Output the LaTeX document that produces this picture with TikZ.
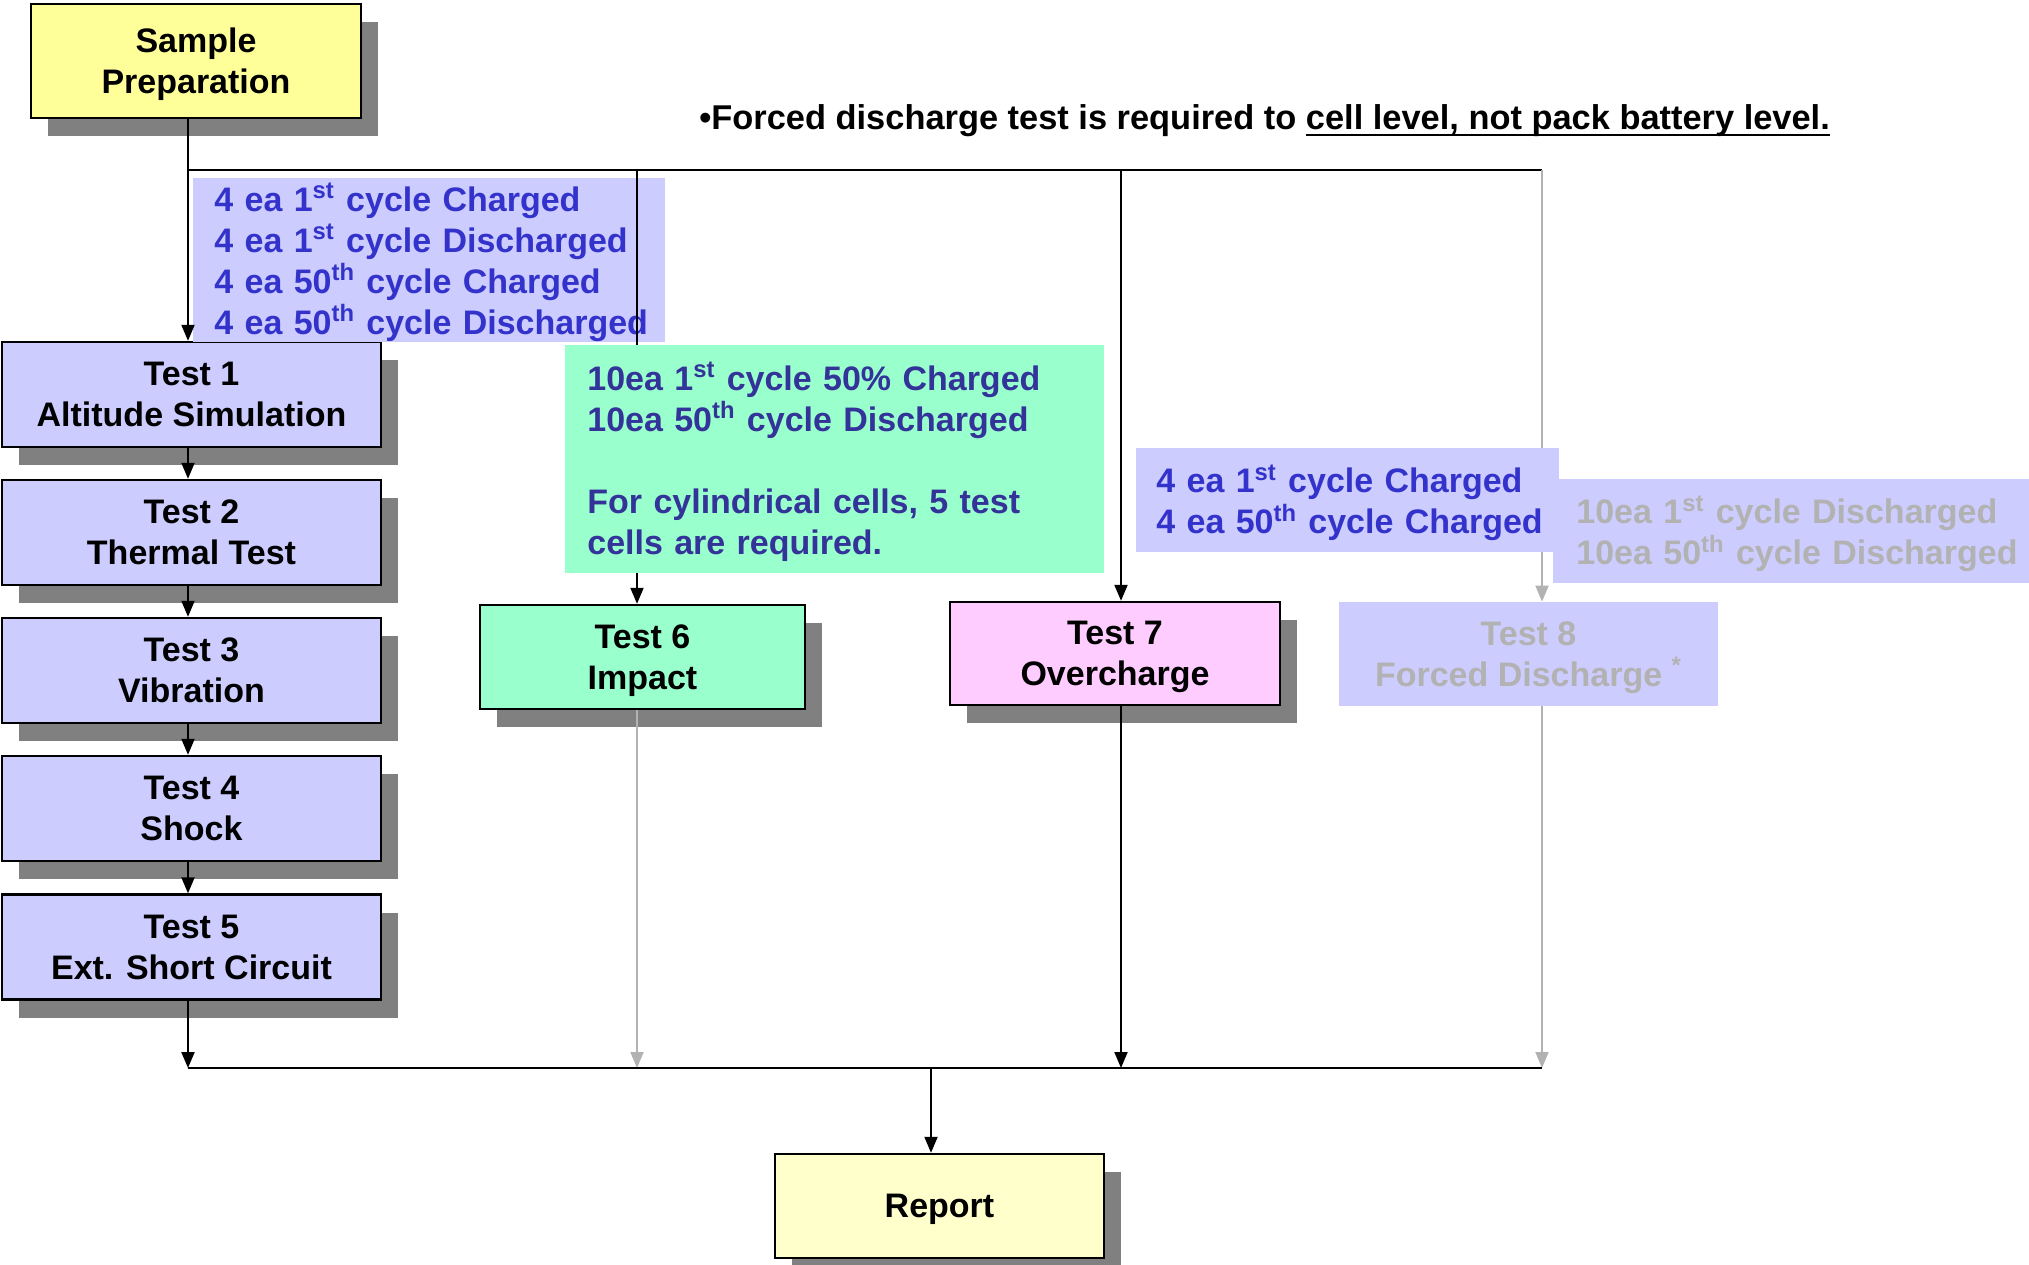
\documentclass[tikz,border=0pt]{standalone}
\usepackage{fontspec}
\setmainfont{Liberation Sans}
\usetikzlibrary{arrows.meta,shadows}

\definecolor{prepfill}{HTML}{FFFF99}
\definecolor{testfill}{HTML}{CCCCFF}
\definecolor{impactfill}{HTML}{99FFCC}
\definecolor{overfill}{HTML}{FFCCFF}
\definecolor{reportfill}{HTML}{FFFFCC}
\definecolor{shadowgray}{HTML}{808080}
\definecolor{notetext}{HTML}{3333CC}
\definecolor{greentext}{HTML}{333399}
\definecolor{fadegray}{HTML}{B2B2B2}

\newcommand{\boxfont}{\fontsize{17}{20.5}\selectfont\bfseries}
\newsavebox{\rulebox}
\newcommand{\underrule}[1]{\sbox{\rulebox}{#1}\rlap{\rule[-3.5pt]{\wd\rulebox}{1pt}}\usebox{\rulebox}}

\tikzset{
  plainbox/.style={fill=testfill, align=center, inner sep=0pt, font=\boxfont,
    text depth=0pt, minimum width=189.5pt, minimum height=52.5pt},
  testbox/.style={plainbox, draw, line width=1.2pt,
    drop shadow={shadow xshift=8.5pt, shadow yshift=-9pt, fill=shadowgray, opacity=1}},
  note/.style={fill=testfill, text=notetext, font=\boxfont, align=left,
    anchor=north west, inner xsep=10.5pt, inner ysep=0pt, text height=16.5pt},
  flow/.style={line width=1pt, -{Triangle[length=8pt, width=6.5pt]}},
  wire/.style={line width=1pt}
}

\begin{document}
\begin{tikzpicture}[x=0.5pt, y=-0.5pt]
\useasboundingbox (0,0) rectangle (2029,1264);

% boxes
\node[testbox, fill=prepfill, minimum width=165pt, minimum height=57pt] (prep) at (196,61) {Sample\\Preparation};
\node[testbox] (t1) at (191.5,394.5) {Test 1\\Altitude Simulation};
\node[testbox] (t2) at (191.5,532.5) {Test 2\\Thermal Test};
\node[testbox] (t3) at (191.5,670.5) {Test 3\\Vibration};
\node[testbox] (t4) at (191.5,808.5) {Test 4\\Shock};
\node[testbox] (t5) at (191.5,947) {Test 5\\Ext. Short Circuit};
\node[testbox, fill=impactfill, minimum width=162.5pt, minimum height=52pt] (t6) at (642.5,657) {Test 6\\Impact};
\node[testbox, fill=overfill, minimum width=165pt, minimum height=51.5pt] (t7) at (1115,653.5) {Test 7\\Overcharge};
\node[plainbox, text=fadegray, minimum height=52pt] (t8) at (1528.5,654) {Test 8\\Forced Discharge \textsuperscript{*}};
\node[testbox, fill=reportfill, minimum width=164.5pt, minimum height=52pt] (report) at (939.5,1206) {Report};

\coordinate (fork) at (188,170);
\coordinate (x6) at (637,170);
\coordinate (x7) at (1121,170);
\coordinate (x8) at (1542,170);
\coordinate (join) at (188,1068);
\coordinate (xr) at (931,1068);

% samples for tests 1-5
\node[note, text width=215pt, minimum height=81pt] (batch) at (193,178) {\mbox{4 ea 1\textsuperscript{st} cycle Charged}\\\mbox{4 ea 1\textsuperscript{st} cycle Discharged}\\\mbox{4 ea 50\textsuperscript{th} cycle Charged}\\\mbox{4 ea 50\textsuperscript{th} cycle Discharged}};

\draw[flow] (prep.south -| fork) -- (t1.north -| fork);
\draw[wire] (fork) -- (x8);
\draw[flow] (x6) -- (x6 |- t6.north);
\draw[flow] (x7) -- (x7 |- t7.north);
\draw[flow, fadegray] (x8) -- (x8 |- t8.north);

\node[note, fill=impactfill, text=greentext, inner xsep=11pt, text width=247.5pt, minimum height=114pt] (impactnote) at (565,345) {\mbox{10ea 1\textsuperscript{st} cycle 50\% Charged}\\\mbox{10ea 50\textsuperscript{th} cycle Discharged}\\[20.5pt]\mbox{For cylindrical cells, 5 test}\\\mbox{cells are required.}};
\node[note, inner xsep=10pt, text width=191.5pt, minimum height=52pt] (overnote) at (1136,448) {\mbox{4 ea 1\textsuperscript{st} cycle Charged}\\\mbox{4 ea 50\textsuperscript{th} cycle Charged}};
\node[note, text=fadegray, inner xsep=11.5pt, text width=240pt, minimum height=52pt] (forcednote) at (1553,479) {\mbox{10ea 1\textsuperscript{st} cycle Discharged}\\\mbox{10ea 50\textsuperscript{th} cycle Discharged}};

\draw[flow] (t1.south -| fork) -- (t2.north -| fork);
\draw[flow] (t2.south -| fork) -- (t3.north -| fork);
\draw[flow] (t3.south -| fork) -- (t4.north -| fork);
\draw[flow] (t4.south -| fork) -- (t5.north -| fork);
\draw[flow] (t5.south -| fork) -- (join);
\draw[flow, fadegray] (x6 |- t6.south) -- (x6 |- join);
\draw[flow] (x7 |- t7.south) -- (x7 |- join);
\draw[flow, fadegray] (x8 |- t8.south) -- (x8 |- join);
\draw[wire] (join) -- (x8 |- join);
\draw[flow] (xr) -- (xr |- report.north);

\node[anchor=base west, inner xsep=0pt, font=\fontsize{17.2}{20.5}\selectfont\bfseries] (remark) at (699,129) {\textbullet Forced discharge test is required to \underrule{cell level, not pack battery level.}};
\end{tikzpicture}
\end{document}
